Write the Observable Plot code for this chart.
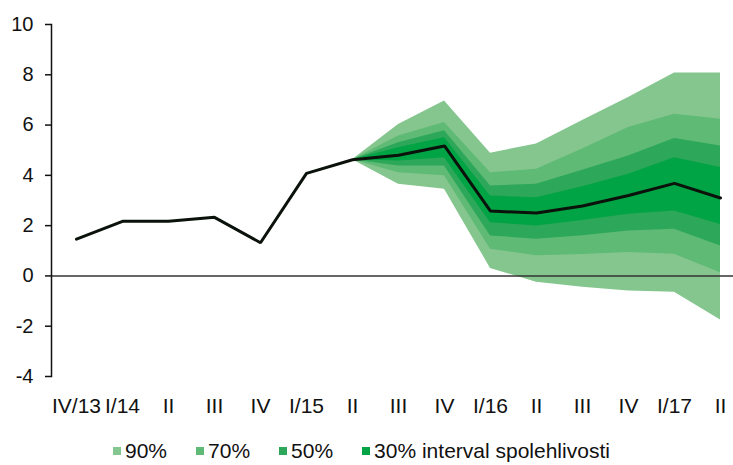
<!DOCTYPE html>
<html>
<head>
<meta charset="utf-8">
<script src="https://cdn.jsdelivr.net/npm/d3@7"></script>
<script src="https://cdn.jsdelivr.net/npm/@observablehq/plot@0.6"></script>
<style>
  html, body { margin: 0; padding: 0; background: #fff; }
  body { width: 733px; height: 465px; overflow: hidden; font-family: "Liberation Sans", Arial, sans-serif; }
  #legend { display: flex; align-items: center; padding-left: 113px; margin-top: 19px; height: 24px; font-size: 21px; color: #111; line-height: 24px; }
  #legend .item { display: flex; align-items: center; margin-right: 29px; }
  #legend .sw { width: 8px; height: 8px; margin-right: 4px; }
</style>
</head>
<body>
<div id="chart"></div>
<div id="legend"></div>
<script>
// Category tick labels (quarters)
const quarters = ["IV/13","I/14","II","III","IV","I/15","II","III","IV","I/16","II","III","IV","I/17","II"];
// Central path
const central = [1.46, 2.17, 2.17, 2.33, 1.32, 4.08, 4.62, 4.8, 5.17, 2.58, 2.5, 2.78, 3.2, 3.68, 3.1];
// Fan chart bounds, from II/15 (index 6) onward
const fanStart = 6;
const hi90 = [4.62, 6.02, 6.96, 4.88, 5.25, 6.18, 7.1, 8.07, 8.07];
const hi70 = [4.62, 5.57, 6.1, 4.1, 4.24, 5.05, 5.9, 6.43, 6.23];
const hi50 = [4.62, 5.3, 5.77, 3.58, 3.65, 4.2, 4.77, 5.47, 5.17];
const hi30 = [4.62, 5.1, 5.5, 3.18, 3.11, 3.55, 4.04, 4.7, 4.31];
const lo30 = [4.62, 4.57, 4.7, 2.12, 1.99, 2.2, 2.45, 2.58, 2.05];
const lo50 = [4.62, 4.37, 4.37, 1.59, 1.46, 1.6, 1.79, 1.86, 1.19];
const lo70 = [4.62, 4.1, 3.98, 1.06, 0.8, 0.85, 0.93, 0.86, 0.13];
const lo90 = [4.62, 3.65, 3.45, 0.3, -0.25, -0.45, -0.6, -0.65, -1.75];
const bandLabels = ["90%", "70%", "50%", "30% interval spolehlivosti"];
const bandColors = ["#84c68e", "#5fba76", "#2da75a", "#00a444"];
const yTicks = [-4, -2, 0, 2, 4, 6, 8, 10];

const lineData = central.map((v, i) => ({i, v}));
const bands = [[lo90, hi90], [lo70, hi70], [lo50, hi50], [lo30, hi30]];
const fanData = bands.map(([lo, hi], b) => lo.map((l, k) => ({i: fanStart + k, lo: l, hi: hi[k], b})));

const plot = Plot.plot({
  width: 733,
  height: 420,
  marginLeft: 51,
  marginRight: 0,
  marginTop: 24,
  marginBottom: 44,
  style: {fontFamily: "'Liberation Sans', Arial, sans-serif", color: "#111", background: "#fff"},
  x: {type: "point", domain: d3.range(quarters.length), range: [73.5, 721.7], padding: 0},
  y: {domain: [-4, 10]},
  marks: [
    ...fanData.map((d, b) => Plot.areaY(d, {x: "i", y1: "lo", y2: "hi", fill: bandColors[b], fillOpacity: 1})),
    Plot.ruleY([0], {stroke: "#333", strokeWidth: 1.6}),
    Plot.lineY(lineData, {x: "i", y: "v", stroke: "#0b120b", strokeWidth: 3, strokeLinejoin: "miter"}),
    Plot.frame({anchor: "left", stroke: "#111", strokeWidth: 1.5}),
    Plot.axisY({ticks: yTicks, tickSize: 6, tickPadding: 12, fontSize: 20, stroke: "#111", strokeWidth: 1.5, label: null, tickFormat: d => String(d)}),
    Plot.axisX({tickSize: 0, tickPadding: 22, fontSize: 21, tickFormat: i => quarters[i], label: null})
  ]
});
document.getElementById("chart").appendChild(plot);

const legend = document.getElementById("legend");
bandLabels.forEach((lab, b) => {
  const item = document.createElement("div");
  item.className = "item";
  const sw = document.createElement("span");
  sw.className = "sw";
  sw.style.background = bandColors[b];
  const t = document.createElement("span");
  t.textContent = lab;
  item.appendChild(sw);
  item.appendChild(t);
  legend.appendChild(item);
});
</script>
</body>
</html>
